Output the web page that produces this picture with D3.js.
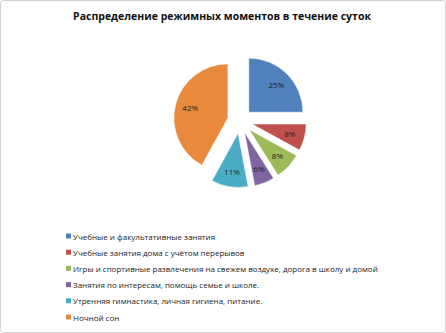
<!DOCTYPE html>
<html><head><meta charset="utf-8">
<script src="https://cdn.jsdelivr.net/npm/d3@7"></script>
<style>body{margin:0;background:#fff}svg{display:block}</style>
</head><body>
<svg id="c" width="446" height="333"></svg>
<script>
const title = "Распределение режимных моментов в течение суток";
const categories = [
  "Учебные и факультативные  занятия",
  "Учебные занятия дома с учётом перерывов",
  "Игры и спортивные развлечения на свежем воздухе, дорога в школу и домой",
  "Занятия по интересам, помощь семье и школе.",
  "Утренняя гимнастика, личная гигиена, питание.",
  "Ночной сон"
];
const values = [25, 8, 8, 6, 11, 42];
const colors = ["#4F81BD", "#C0504D", "#9BBB59", "#8064A2", "#4BACC6", "#E8893C"];

const svg = d3.select("#c");
svg.append("rect").attr("x",0.5).attr("y",0.5).attr("width",445).attr("height",332)
  .attr("rx",3).attr("fill","#fff").attr("stroke","#d0d0d0");

svg.append("text").attr("x",222).attr("y",20).attr("text-anchor","middle")
  .attr("font-family","Open Sans, sans-serif").attr("font-weight","bold")
  .attr("font-size",10.5).attr("fill","#111").text(title);

const cx = 240, cy = 121, r = 54, explode = 12.5;
const pie = d3.pie().sort(null).value(d=>d)(values);
const arc = d3.arc().innerRadius(0).outerRadius(r);
const g = svg.append("g").attr("transform",`translate(${cx},${cy})`);
const total = d3.sum(values);
pie.forEach((p,i)=>{
  const mid = (p.startAngle+p.endAngle)/2;
  const dx = Math.sin(mid)*explode, dy = -Math.cos(mid)*explode;
  const sg = g.append("g").attr("transform",`translate(${dx},${dy})`);
  sg.append("path").attr("d",arc(p)).attr("fill",colors[i]).attr("stroke","#fff").attr("stroke-width",0.5);
  const lr = r*0.72;
  sg.append("text").attr("x",Math.sin(mid)*lr).attr("y",-Math.cos(mid)*lr+3)
    .attr("text-anchor","middle").attr("font-family","Open Sans, sans-serif")
    .attr("font-size",8).attr("fill","#222")
    .text(Math.round(values[i]/total*100)+"%");
});

const leg = svg.append("g");
const rowY = d3.scaleLinear().domain([0,5]).range([237,318]);
categories.forEach((c,i)=>{
  const y = rowY(i);
  leg.append("rect").attr("x",66).attr("y",y-3.5).attr("width",5).attr("height",5).attr("fill",colors[i]);
  leg.append("text").attr("x",73).attr("y",y+2.5).attr("font-family","Open Sans, sans-serif")
    .attr("font-size",8).attr("fill","#222").text(c);
});
</script>
</body></html>
